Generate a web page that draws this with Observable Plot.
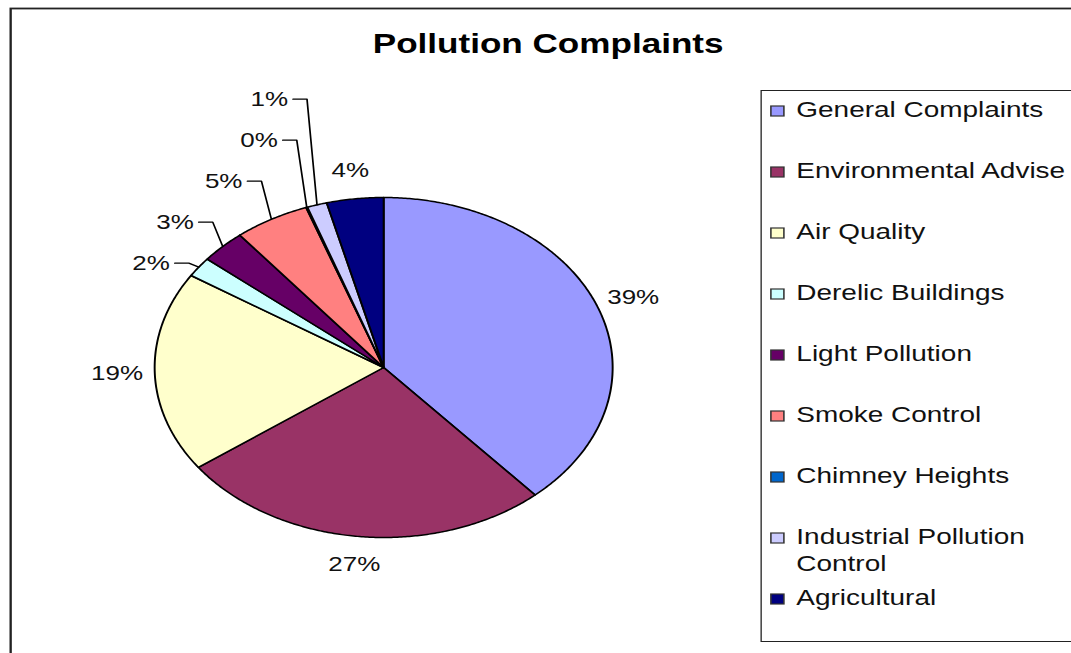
<!DOCTYPE html>
<html>
<head>
<meta charset="utf-8">
<script src="https://cdn.jsdelivr.net/npm/d3@7"></script>
<script src="https://cdn.jsdelivr.net/npm/@observablehq/plot@0.6"></script>
<style>
  html, body { margin: 0; padding: 0; background: #fff; overflow: hidden; width: 1071px; height: 653px; }
  #wrap { position: absolute; left: 0; top: 0; height: 653px; transform-origin: 0 0; }
  #legend { position: absolute; top: 90px; height: 552px; border: 1.4px solid #222; box-sizing: border-box; background: #fff; padding-top: 6.3px; }
  .lg-swatches { font-family: "Liberation Sans", Arial, sans-serif; font-size: 21.5px; color: #111; margin: 0; }
  .lg-swatches .lg-swatch { display: flex; align-items: flex-start; height: 61px; padding: 0; }
  .lg-swatches .lg-swatch-label { white-space: normal; overflow: visible; line-height: 26.5px; width: 215px; }
  .lg-swatches .lg-swatch > svg { margin-top: 9px; margin-right: 9.6px; margin-left: 6.6px; overflow: visible; }
  .lg-swatches .lg-swatch rect { stroke: #333; stroke-width: 1.2px; }
</style>
</head>
<body>
<div id="wrap"></div>
<script>
// ---- data ----
const title = "Pollution Complaints";
const categories = ["General Complaints", "Environmental Advise", "Air Quality", "Derelic Buildings", "Light Pollution", "Smoke Control", "Chimney Heights", "Industrial Pollution Control", "Agricultural"];
const shares = [38.5, 26.5, 19.1, 1.9, 3.2, 5.3, 0.1, 1.4, 4.0];
const colors = ["#9999FF", "#993366", "#FFFFCC", "#CCFFFF", "#660066", "#FF8080", "#0066CC", "#CCCCFF", "#000080"];
const leaderCategories = ["Derelic Buildings", "Light Pollution", "Smoke Control", "Chimney Heights", "Industrial Pollution Control"];

// ---- layout ----
const S = 1.3;                 // horizontal stretch of the original picture
const W = 1071 / S, H = 653;
const CX = 383, CY = 367, RX = 229, RY = 170;   // pie ellipse in page pixels
const font = "'Liberation Sans', Arial, sans-serif";

// ---- geometry from data ----
const total = d3.sum(shares);
let acc = 0;
const slices = categories.map((c, i) => {
  const a0 = acc / total * 2 * Math.PI;
  acc += shares[i];
  const a1 = acc / total * 2 * Math.PI;
  return {c, v: shares[i], a0, a1, mid: (a0 + a1) / 2, label: Math.round(shares[i] / total * 100 + 1e-9) + "%"};
});

const piePts = slices.flatMap(s => {
  const n = Math.max(2, Math.ceil((s.a1 - s.a0) / (Math.PI / 360)));
  const pts = [{c: s.c, x: 0, y: 0}];
  for (let k = 0; k <= n; k++) {
    const a = s.a0 + (s.a1 - s.a0) * k / n;
    pts.push({c: s.c, x: Math.sin(a), y: Math.cos(a)});
  }
  return pts;
});

// plain labels outside the pie
const plainLabels = slices.filter(s => !leaderCategories.includes(s.c)).map(s => ({
  x: 1.165 * Math.sin(s.mid), y: 1.165 * Math.cos(s.mid), text: s.label
}));

// stacked labels with leader lines
const lead = slices.filter(s => leaderCategories.includes(s.c));
const px2ux = d => d / RX, px2uy = d => d / RY;
const baseY = Math.cos(lead[0].mid) + px2uy(4);
const leaderLabels = [], leaderLines = [];
lead.forEach((s, k) => {
  const ex = Math.sin(s.mid), ey = Math.cos(s.mid);
  const ly = baseY + px2uy(41) * k;
  const elbow = ex - px2ux(10);
  leaderLabels.push({x: elbow - px2ux(19), y: ly, text: s.label});
  leaderLines.push({k, x: elbow - px2ux(14), y: ly});
  leaderLines.push({k, x: elbow, y: ly});
  leaderLines.push({k, x: ex, y: ey});
});

const plot = Plot.plot({
  width: W, height: H,
  margin: 0,
  style: {fontFamily: font, background: "transparent", overflow: "visible"},
  x: {axis: null, domain: [-1, 1], range: [(CX - RX) / S, (CX + RX) / S]},
  y: {axis: null, domain: [-1, 1], range: [CY + RY, CY - RY]},
  color: {domain: categories, range: colors},
  marks: [
    Plot.frame({stroke: "#222", strokeWidth: 1.8, insetLeft: 10 / S, insetTop: 8, insetRight: -20, insetBottom: -20}),
    Plot.line(piePts, {x: "x", y: "y", z: "c", fill: "c", stroke: "#000", strokeWidth: 1.5, strokeLinejoin: "round", curve: "linear-closed"}),
    Plot.line(leaderLines, {x: "x", y: "y", z: "k", stroke: "#000", strokeWidth: 1.3}),
    Plot.text(plainLabels, {x: "x", y: "y", text: "text", fontSize: 20, fill: "#111", textAnchor: "middle", lineAnchor: "middle"}),
    Plot.text(leaderLabels, {x: "x", y: "y", text: "text", fontSize: 20, fill: "#111", textAnchor: "end", lineAnchor: "middle"}),
    Plot.text([title], {frameAnchor: "top-left", dx: 547.5 / S, dy: 44, fontSize: 27, fontWeight: "bold", fill: "#000", textAnchor: "middle", lineAnchor: "middle"})
  ]
});

const wrap = document.getElementById("wrap");
wrap.style.width = W + "px";
wrap.style.transform = `scaleX(${S})`;
wrap.appendChild(plot);

const legendBox = document.createElement("div");
legendBox.id = "legend";
legendBox.style.left = (761 / S) + "px";
legendBox.style.width = ((1075 - 761) / S) + "px";
const leg = plot.legend("color", {legend: "swatches", columns: 1, className: "lg", swatchWidth: 10, swatchHeight: 10});
legendBox.appendChild(leg);
wrap.appendChild(legendBox);
</script>
</body>
</html>
